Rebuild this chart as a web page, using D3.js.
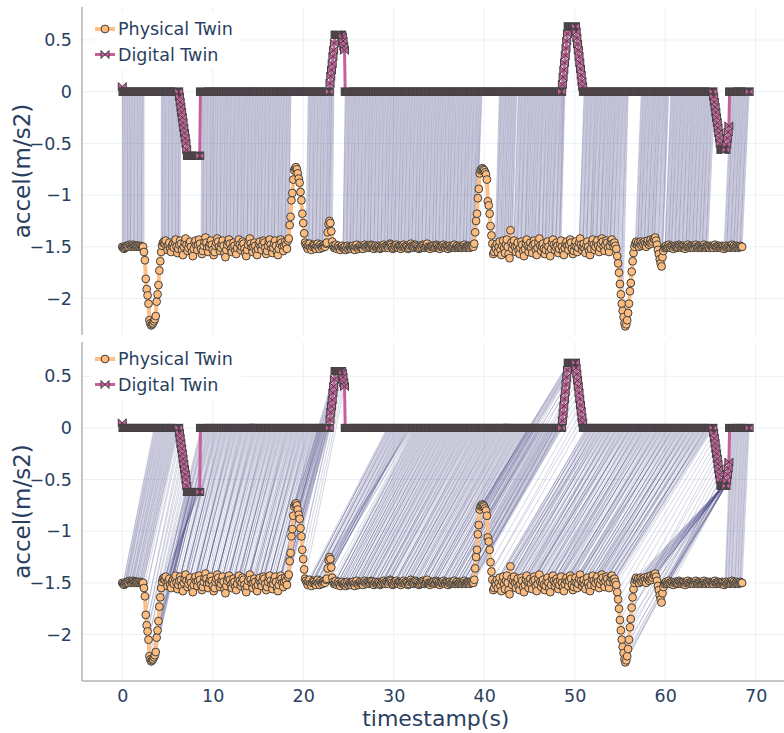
<!DOCTYPE html>
<html>
<head>
<meta charset="utf-8">
<script src="https://cdn.jsdelivr.net/npm/d3@7"></script>
<style>
  html, body { margin: 0; padding: 0; background: #fff; }
  svg { display: block; font-family: "DejaVu Sans", Verdana, sans-serif; }
</style>
</head>
<body>
<svg id="chart" width="784" height="733"></svg>
<script>
// ---------------------------------------------------------------------------
// Sampling periods (seconds) of the two recordings
const PHYS_PERIOD = 0.1;
const DIGI_PERIOD = 0.08;

// Physical twin acceleration (m/s2), consecutive samples, split by phase
const physStart = [-1.50,-1.51,-1.52,-1.51,-1.50,-1.49,-1.49,-1.50,-1.48,-1.49,-1.50,-1.49,-1.48,-1.49,-1.50,-1.49,-1.49,-1.50,-1.49,-1.50,-1.49,-1.50,-1.50];
const physDip1 = [-1.50,-1.55,-1.63,-1.81,-1.91,-1.97,-2.05,-2.21,-2.24,-2.26,-2.25,-2.24,-2.22,-2.20,-2.17,-2.03,-1.96,-1.87,-1.73,-1.64,-1.55,-1.49,-1.46];
const physCruise1 = [
  -1.45,-1.47,-1.44,-1.50,-1.53,-1.48,-1.46,-1.52,-1.55,-1.49,
  -1.47,-1.51,-1.45,-1.43,-1.50,-1.56,-1.52,-1.48,-1.44,-1.47,
  -1.53,-1.58,-1.50,-1.46,-1.42,-1.48,-1.54,-1.51,-1.47,-1.45,
  -1.50,-1.55,-1.59,-1.52,-1.46,-1.44,-1.49,-1.53,-1.48,-1.43,
  -1.47,-1.52,-1.57,-1.54,-1.49,-1.45,-1.41,-1.46,-1.51,-1.55,
  -1.50,-1.47,-1.44,-1.48,-1.53,-1.58,-1.55,-1.49,-1.46,-1.42,
  -1.45,-1.50,-1.54,-1.51,-1.47,-1.44,-1.49,-1.56,-1.60,-1.53,
  -1.48,-1.45,-1.43,-1.47,-1.52,-1.55,-1.50,-1.46,-1.49,-1.54,
  -1.57,-1.51,-1.46,-1.43,-1.48,-1.53,-1.50,-1.45,-1.47,-1.52,
  -1.56,-1.59,-1.53,-1.48,-1.44,-1.42,-1.47,-1.51,-1.55,-1.50,
  -1.46,-1.49,-1.54,-1.58,-1.52,-1.47,-1.45,-1.50,-1.53,-1.48,
  -1.44,-1.46,-1.51,-1.57,-1.54,-1.49,-1.45,-1.43,-1.48,-1.52,
  -1.56,-1.51,-1.47,-1.44,-1.49,-1.55,-1.58,-1.52,-1.47,-1.43,
  -1.46,-1.50,-1.54,-1.49,-1.45,-1.48,-1.52,-1.44];
const physPeak1 = [-1.42,-1.29,-1.21,-1.05,-0.98,-0.85,-0.76,-0.74,-0.73,-0.75,-0.79,-0.84,-0.88,-0.97,-1.05,-1.18,-1.27,-1.37,-1.46];
const physCruise2 = [
  -1.48,-1.50,-1.52,-1.49,-1.47,-1.51,-1.53,-1.50,-1.48,-1.49,
  -1.51,-1.52,-1.49,-1.47,-1.50,-1.52,-1.48,-1.50,-1.51,-1.49,
  -1.48,-1.50,-1.47,-1.46,-1.36,-1.28,-1.25,-1.27,-1.35,-1.45,
  -1.49,-1.51,-1.50,-1.48,-1.52,-1.50,-1.49,-1.51,-1.53,-1.50,
  -1.49,-1.51,-1.52,-1.50,-1.53,-1.51,-1.49,-1.52,-1.50,-1.51,
  -1.52,-1.50,-1.49,-1.51,-1.53,-1.50,-1.48,-1.51,-1.52,-1.50,
  -1.49,-1.51,-1.50,-1.52,-1.49,-1.48,-1.50,-1.51,-1.49,-1.50,
  -1.51,-1.50,-1.48,-1.49,-1.51,-1.52,-1.50,-1.49,-1.51,-1.50,
  -1.49,-1.50,-1.52,-1.51,-1.49,-1.50,-1.48,-1.50,-1.51,-1.49,
  -1.50,-1.51,-1.49,-1.47,-1.48,-1.50,-1.52,-1.51,-1.49,-1.50,
  -1.48,-1.50,-1.51,-1.49,-1.50,-1.52,-1.50,-1.49,-1.48,-1.50,
  -1.51,-1.49,-1.50,-1.52,-1.51,-1.49,-1.47,-1.49,-1.50,-1.51,
  -1.50,-1.48,-1.49,-1.51,-1.50,-1.52,-1.51,-1.49,-1.50,-1.48,
  -1.49,-1.51,-1.50,-1.49,-1.47,-1.50,-1.51,-1.52,-1.50,-1.49,
  -1.50,-1.49,-1.51,-1.50,-1.48,-1.49,-1.51,-1.50,-1.52,-1.50,
  -1.49,-1.50,-1.48,-1.50,-1.51,-1.49,-1.50,-1.52,-1.50,-1.49,
  -1.51,-1.50,-1.49,-1.50,-1.48,-1.51,-1.50,-1.49,-1.51,-1.50,
  -1.49,-1.50,-1.51,-1.50,-1.49,-1.48,-1.50,-1.51,-1.50,-1.49,
  -1.50,-1.51,-1.49,-1.50,-1.49,-1.50];
const physPeak2 = [-1.47,-1.36,-1.25,-1.18,-1.03,-0.94,-0.79,-0.76,-0.75,-0.74,-0.75,-0.76,-0.78,-0.80,-0.85,-1.06,-1.10,-1.18,-1.30,-1.39,-1.47,-1.57,-1.55,-1.50];
const physCruise3 = [
  -1.52,-1.47,-1.55,-1.50,-1.45,-1.53,-1.58,-1.49,-1.44,-1.51,
  -1.56,-1.48,-1.43,-1.50,-1.57,-1.61,-1.34,-1.46,-1.52,-1.48,
  -1.44,-1.50,-1.55,-1.49,-1.46,-1.53,-1.57,-1.51,-1.45,-1.48,
  -1.54,-1.59,-1.52,-1.47,-1.43,-1.49,-1.55,-1.50,-1.46,-1.51,
  -1.56,-1.48,-1.44,-1.47,-1.53,-1.58,-1.51,-1.46,-1.42,-1.49,
  -1.54,-1.50,-1.47,-1.52,-1.57,-1.53,-1.48,-1.45,-1.50,-1.55,
  -1.59,-1.52,-1.46,-1.43,-1.48,-1.53,-1.50,-1.46,-1.49,-1.56,
  -1.52,-1.47,-1.44,-1.50,-1.54,-1.58,-1.51,-1.47,-1.45,-1.49,
  -1.53,-1.48,-1.43,-1.46,-1.52,-1.57,-1.54,-1.49,-1.45,-1.50,
  -1.55,-1.51,-1.46,-1.42,-1.48,-1.53,-1.50,-1.47,-1.52,-1.56,
  -1.49,-1.45,-1.50,-1.54,-1.58,-1.52,-1.46,-1.43,-1.48,-1.53,
  -1.50,-1.46,-1.44,-1.49,-1.55,-1.51,-1.47,-1.42,-1.45,-1.50,
  -1.54,-1.48,-1.44,-1.46,-1.51,-1.55,-1.49,-1.45,-1.43,-1.47,
  -1.50,-1.46,-1.49];
const physDip2 = [-1.52,-1.59,-1.66,-1.75,-1.86,-1.96,-2.05,-2.12,-2.18,-2.24,-2.27,-2.25,-2.21,-2.14,-2.05,-1.93,-1.85,-1.74,-1.64,-1.56,-1.50];
const physSettle = [-1.47,-1.45,-1.48,-1.46,-1.50,-1.47,-1.45,-1.49,-1.46,-1.48,-1.45,-1.47,-1.50,-1.46,-1.44,-1.48,-1.46,-1.43,-1.47,-1.45,-1.42,-1.43,-1.41,-1.44,-1.48,-1.53,-1.57,-1.62,-1.66,-1.69,-1.60,-1.54,-1.51];
const physRest = [
  -1.50,-1.49,-1.51,-1.50,-1.48,-1.50,-1.51,-1.49,-1.50,-1.52,
  -1.50,-1.49,-1.50,-1.51,-1.50,-1.48,-1.49,-1.50,-1.51,-1.50,
  -1.49,-1.50,-1.52,-1.50,-1.49,-1.48,-1.50,-1.51,-1.50,-1.49,
  -1.50,-1.51,-1.49,-1.50,-1.48,-1.50,-1.51,-1.50,-1.49,-1.50,
  -1.51,-1.50,-1.49,-1.48,-1.50,-1.51,-1.50,-1.49,-1.50,-1.51,
  -1.49,-1.50,-1.50,-1.51,-1.49,-1.48,-1.50,-1.51,-1.50,-1.49,
  -1.50,-1.51,-1.50,-1.49,-1.50,-1.52,-1.50,-1.49,-1.51,-1.50,
  -1.49,-1.50,-1.51,-1.50,-1.48,-1.50,-1.49,-1.51,-1.50,-1.49,
  -1.50,-1.51,-1.50,-1.49,-1.50,-1.50];

// Digital twin acceleration (m/s2): constant stretches are stored as runs
const digiFirst = [0.05];
const digiBrakeDown = [-0.05,-0.10,-0.15,-0.20,-0.25,-0.30,-0.35,-0.40,-0.45,-0.50,-0.56];
const digiBoost1Up = [0.08,0.15,0.21,0.27,0.34,0.40,0.47,0.55];
const digiBoost1Down = [0.53,0.49,0.44,0.40];
const digiBoost2Up = [0.07,0.14,0.21,0.28,0.35,0.42,0.49,0.56,0.63];
const digiBoost2Down = [0.58,0.52,0.46,0.40,0.34,0.28,0.22,0.16,0.10,0.05];
const digiBrake2Down = [-0.05,-0.10,-0.15,-0.20,-0.25,-0.30,-0.35,-0.40,-0.45,-0.50,-0.56];
const digiBrake2Up = [-0.51,-0.45,-0.39,-0.33];
// [value, sample count]
const digiRuns = {
  idle1: [0, 78], brakeHold: [-0.62, 18], idle2: [0, 179], boost1Hold: [0.55, 9],
  idle3: [0, 300], boost2Hold: [0.63, 10], idle4: [0, 180], brake2Hold: [-0.56, 7], idle5: [0, 28]
};

// Axis ticks
const xTicks = [0, 10, 20, 30, 40, 50, 60, 70];
const yTicks = [0.5, 0, -0.5, -1, -1.5, -2];

// Upper panel: proportional index alignment, shown over these physical-time spans (s)
const linearSpans = [[0, 2.4], [4.3, 6.4], [8.7, 18.4], [20.3, 23.2], [24.4, 39.3], [41.2, 43.1],
                     [43.3, 48.5], [50.5, 55.3], [56.7, 59.7], [60.0, 64.7], [66.5, 68.5]];

// Lower panel: DTW warping path breakpoints [physical t, digital t, shown]
const dtwPath = [
  [0.0, 0.0, 0], [0.0, 3.4, 0], [2.4, 6.24, 1], [3.0, 7.12, 1], [4.4, 8.56, 1], [4.5, 8.64, 0],
  [18.3, 22.88, 1], [19.1, 23.52, 1], [20.2, 24.56, 1], [20.3, 29.2, 0], [38.8, 48.56, 1],
  [39.5, 49.28, 1], [40.9, 50.88, 1], [41.2, 51.2, 0], [54.6, 65.28, 1], [55.5, 66.08, 1],
  [56.6, 66.4, 1], [60.3, 66.72, 1], [66.4, 66.9, 0], [66.5, 67.2, 0], [68.5, 69.28, 1]
];

// ---------------------------------------------------------------------------
const hold = run => new Array(run[1]).fill(run[0]);
const physical = [].concat(physStart, physDip1, physCruise1, physPeak1, physCruise2,
                           physPeak2, physCruise3, physDip2, physSettle, physRest)
  .map((v, i) => ({ t: i * PHYS_PERIOD, v }));
const digital = [].concat(digiFirst, hold(digiRuns.idle1), digiBrakeDown, hold(digiRuns.brakeHold),
    hold(digiRuns.idle2), digiBoost1Up, hold(digiRuns.boost1Hold), digiBoost1Down,
    hold(digiRuns.idle3), digiBoost2Up, hold(digiRuns.boost2Hold), digiBoost2Down,
    hold(digiRuns.idle4), digiBrake2Down, hold(digiRuns.brake2Hold), digiBrake2Up, hold(digiRuns.idle5))
  .map((v, i) => ({ t: i * DIGI_PERIOD, v }));

const NP = physical.length, ND = digital.length;

// Upper panel pairs: every digital sample against its proportional physical index
const linearPairs = [];
digital.forEach((d, j) => {
  const i = Math.round(j * (NP - 1) / (ND - 1));
  const tp = physical[i].t;
  if (linearSpans.some(s => tp >= s[0] - 1e-9 && tp <= s[1] + 1e-9)) linearPairs.push([i, j]);
});

// Lower panel pairs: walk the warping path between its breakpoints
const dtwPairs = [];
for (let k = 1; k < dtwPath.length; k++) {
  const [pa, da] = dtwPath[k - 1], [pb, db, shown] = dtwPath[k];
  if (!shown) continue;
  const i0 = Math.round(pa / PHYS_PERIOD), i1 = Math.min(NP - 1, Math.round(pb / PHYS_PERIOD));
  const j0 = Math.round(da / DIGI_PERIOD), j1 = Math.min(ND - 1, Math.round(db / DIGI_PERIOD));
  const steps = Math.max(i1 - i0, j1 - j0, 1);
  for (let s = 1; s <= steps; s++) {
    dtwPairs.push([i0 + Math.round(s * (i1 - i0) / steps), j0 + Math.round(s * (j1 - j0) / steps)]);
  }
}

// ---------------------------------------------------------------------------
const svg = d3.select("#chart");
const FONT_COLOR = "#2a3f5f";
const GRID = "#ebf0f8";
const PHYS_LINE = "#fdbf85", PHYS_FILL = "#fdbb7d", MARK_EDGE = "#404040";
const DIGI_LINE = "#c7609a", DIGI_FILL = "#c7609a";
const LINK = "#50508a";

const x = d3.scaleLinear().domain([-4.45, 73.75]).range([82, 789.6]);

const panels = [
  { id: "linear", pairs: linearPairs, top: 7, bottom: 335, domain: [-2.353, 0.819], legendY: 13, linkAlpha: 0.36 },
  { id: "dtw", pairs: dtwPairs, top: 342, bottom: 681, domain: [-2.45, 0.832], legendY: 343, linkAlpha: 0.3 }
];

// plotly-style bowtie symbol
const bowtie = r => `M${r},${r}V${-r}L${-r},${r}V${-r}Z`;

panels.forEach((P, pi) => {
  const y = d3.scaleLinear().domain(P.domain).range([P.bottom, P.top]);
  const g = svg.append("g");

  g.append("clipPath").attr("id", "clip-" + P.id)
    .append("rect").attr("x", 82).attr("y", P.top).attr("width", 784 - 82).attr("height", P.bottom - P.top);

  // grid
  g.append("g").selectAll("line").data(yTicks).join("line")
    .attr("x1", 82).attr("x2", 784).attr("y1", d => y(d)).attr("y2", d => y(d))
    .attr("stroke", GRID).attr("stroke-width", 1);
  g.append("g").selectAll("line").data(xTicks).join("line")
    .attr("x1", d => x(d)).attr("x2", d => x(d)).attr("y1", P.top).attr("y2", P.bottom)
    .attr("stroke", GRID).attr("stroke-width", 1);

  const plot = g.append("g").attr("clip-path", `url(#clip-${P.id})`);

  // alignment links
  plot.append("g").selectAll("line").data(P.pairs).join("line")
    .attr("x1", d => x(physical[d[0]].t)).attr("y1", d => y(physical[d[0]].v))
    .attr("x2", d => x(digital[d[1]].t)).attr("y2", d => y(digital[d[1]].v))
    .attr("stroke", LINK).attr("stroke-opacity", P.linkAlpha).attr("stroke-width", 0.8);

  // physical twin
  const line = d3.line().x(d => x(d.t)).y(d => y(d.v));
  plot.append("path").datum(physical).attr("d", line)
    .attr("fill", "none").attr("stroke", PHYS_LINE).attr("stroke-width", 4).attr("stroke-linejoin", "round");
  plot.append("g").selectAll("circle").data(physical).join("circle")
    .attr("cx", d => x(d.t)).attr("cy", d => y(d.v)).attr("r", 3.9)
    .attr("fill", PHYS_FILL).attr("stroke", MARK_EDGE).attr("stroke-width", 1);

  // digital twin
  plot.append("path").datum(digital).attr("d", line)
    .attr("fill", "none").attr("stroke", DIGI_LINE).attr("stroke-width", 3);
  plot.append("g").selectAll("path").data(digital).join("path")
    .attr("transform", d => `translate(${x(d.t)},${y(d.v)})`).attr("d", bowtie(4))
    .attr("fill", DIGI_FILL).attr("stroke", MARK_EDGE).attr("stroke-width", 1);

  // y axis
  g.append("line").attr("x1", 82).attr("x2", 82).attr("y1", P.top).attr("y2", P.bottom)
    .attr("stroke", "#8c8c8c").attr("stroke-width", 1);
  const yAxis = g.append("g").attr("transform", "translate(82,0)")
    .call(d3.axisLeft(y).tickValues(yTicks).tickSize(0).tickPadding(10).tickFormat(d3.format("")));
  yAxis.select(".domain").remove();
  yAxis.selectAll("text").attr("fill", FONT_COLOR).style("font-size", "17.5px")
    .style("font-family", '"DejaVu Sans", Verdana, sans-serif');

  g.append("text").attr("transform", `translate(30,${(P.top + P.bottom) / 2}) rotate(-90)`)
    .attr("text-anchor", "middle").attr("fill", FONT_COLOR).style("font-size", "23px")
    .text("accel(m/s2)");

  // legend
  const lg = g.append("g").attr("transform", `translate(93,${P.legendY})`);
  lg.append("rect").attr("width", 148).attr("height", 56).attr("fill", "#fff");
  const items = [
    { name: "Physical Twin", color: PHYS_LINE, fill: PHYS_FILL, w: 4, sym: "circle" },
    { name: "Digital Twin", color: DIGI_LINE, fill: DIGI_FILL, w: 3, sym: "bowtie" }
  ];
  items.forEach((it, k) => {
    const cy = 16 + k * 25.5;
    lg.append("line").attr("x1", 2).attr("x2", 22).attr("y1", cy).attr("y2", cy)
      .attr("stroke", it.color).attr("stroke-width", it.w);
    if (it.sym === "circle") {
      lg.append("circle").attr("cx", 12).attr("cy", cy).attr("r", 3.9)
        .attr("fill", it.fill).attr("stroke", MARK_EDGE).attr("stroke-width", 1);
    } else {
      lg.append("path").attr("transform", `translate(12,${cy})`).attr("d", bowtie(4))
        .attr("fill", it.fill).attr("stroke", MARK_EDGE).attr("stroke-width", 1);
    }
    lg.append("text").attr("x", 25).attr("y", cy).attr("dy", "0.35em")
      .attr("fill", FONT_COLOR).style("font-size", "17.5px").text(it.name);
  });

  // x axis on the lower panel
  if (pi === 1) {
    g.append("line").attr("x1", 82).attr("x2", 784).attr("y1", P.bottom).attr("y2", P.bottom)
      .attr("stroke", "#8c8c8c").attr("stroke-width", 1);
    const xAxis = g.append("g").attr("transform", `translate(0,${P.bottom})`)
      .call(d3.axisBottom(x).tickValues(xTicks).tickSize(0).tickPadding(9).tickFormat(d3.format("")));
    xAxis.select(".domain").remove();
    xAxis.selectAll("text").attr("fill", FONT_COLOR).style("font-size", "17.5px")
      .style("font-family", '"DejaVu Sans", Verdana, sans-serif');
    g.append("text").attr("x", x.range().reduce((a, b) => a + b) / 2).attr("y", 726)
      .attr("text-anchor", "middle").attr("fill", FONT_COLOR).style("font-size", "22px")
      .text("timestamp(s)");
  }
});
</script>
</body>
</html>
